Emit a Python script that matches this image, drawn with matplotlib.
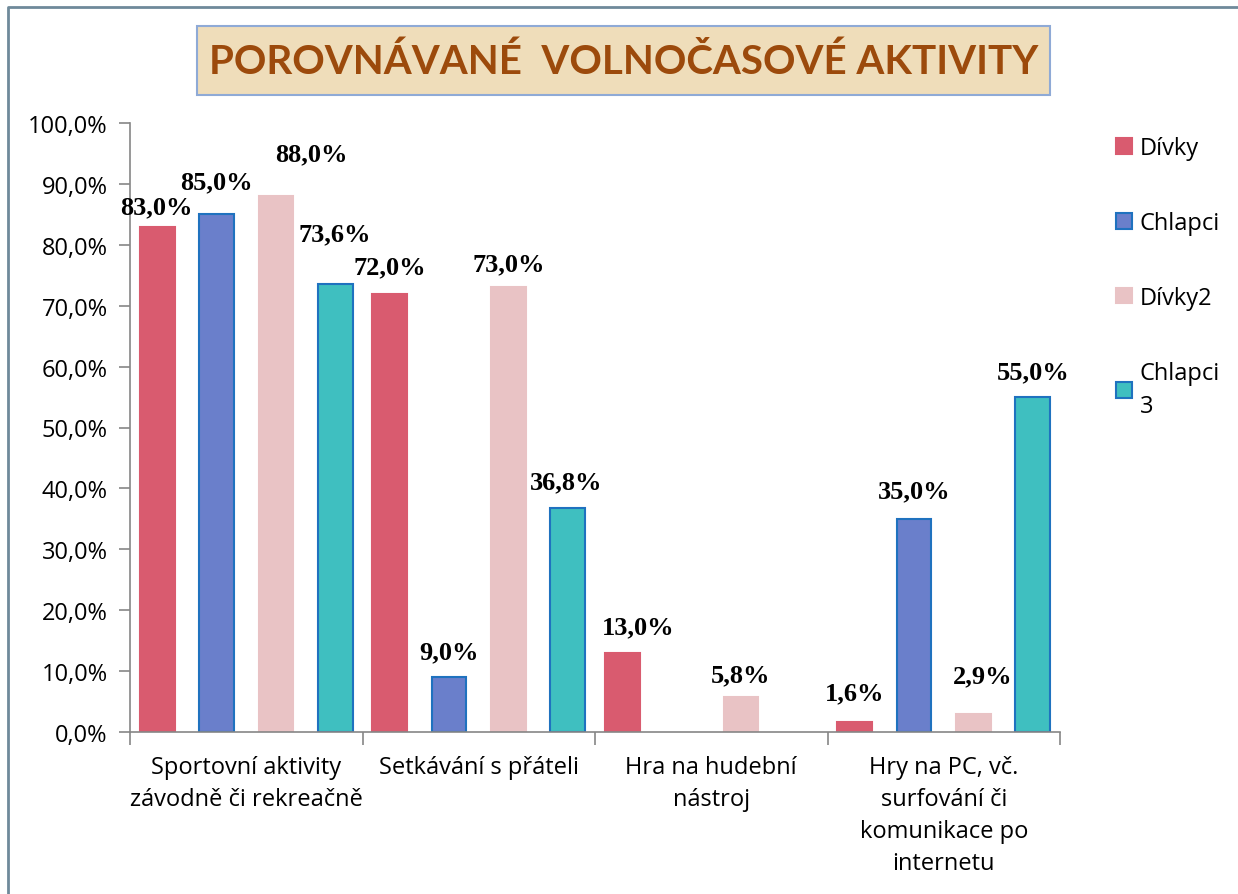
import numpy as np
import matplotlib.pyplot as plt
from matplotlib.patches import Rectangle
from matplotlib.lines import Line2D

categories = ["Sportovní aktivity\nzávodně či rekreačně",
              "Setkávání s přáteli",
              "Hra na hudební\nnástroj",
              "Hry na PC, vč.\nsurfování či\nkomunikace po\ninternetu"]
series_names = ["Dívky", "Chlapci", "Dívky2", "Chlapci\n3"]
divky = [83.0, 72.0, 13.0, 1.6]
chlapci = [85.0, 9.0, np.nan, 35.0]
divky2 = [88.0, 73.0, 5.8, 2.9]
chlapci3 = [73.6, 36.8, np.nan, 55.0]
yticks = [0, 10, 20, 30, 40, 50, 60, 70, 80, 90, 100]

# label nudges in pixels (dx, dy above bar top) per series, as Excel placed them
label_shift = [
    [(-1, 20), (0, 27), (16, 26), (0, 29)],
    [(0, 33), (0, 25), (0, 0), (0, 28)],
    [(35, 42), (0, 24), (0, 22), (9, 39)],
    [(-1, 50), (-2, 26), (0, 0), (0, 25)],
]

fills = ["#D95B6F", "#6A7FCB", "#E9C3C5", "#3FBFC0"]
edges = ["#D95B6F", "#1F72BF", "#E9C3C5", "#1F72BF"]

fig = plt.figure(figsize=(12.38, 8.95), dpi=100)
ax = fig.add_axes([130 / 1238, 1 - 733 / 895, 930 / 1238, 609 / 895])

x = np.arange(len(categories))
step = 0.2557
width = 0.15
all_series = [divky, chlapci, divky2, chlapci3]
for i, vals in enumerate(all_series):
    off = (i - 1.5) * step
    ax.bar(x + off, vals, width, color=fills[i], edgecolor=edges[i],
           linewidth=1.5, label=series_names[i], zorder=2)
    for j, v in enumerate(vals):
        if np.isnan(v):
            continue
        dx, dy = label_shift[i][j]
        ax.annotate(f"{v:.1f}%".replace(".", ","), (x[j] + off, v),
                    xytext=(dx * 0.72, dy * 0.72), textcoords="offset points",
                    ha="center", va="center", fontsize=19, fontweight="bold",
                    family="Liberation Serif", color="black")

ax.set_xlim(-0.5, 3.5)
ax.set_ylim(0, 100)
ax.set_yticks(yticks)
ax.set_yticklabels([f"{t:.1f}%".replace(".", ",") for t in yticks],
                   fontsize=17, family="Open Sans")
ax.set_xticks([-0.5, 0.5, 1.5, 2.5, 3.5])
ax.set_xticklabels([])
ax.tick_params(axis="x", length=9, color="#868686", width=1.2)
ax.tick_params(axis="y", length=8, color="#868686", width=1.2, pad=8)
for s in ["top", "right"]:
    ax.spines[s].set_visible(False)
for s in ["left", "bottom"]:
    ax.spines[s].set_color("#868686")
    ax.spines[s].set_linewidth(1.2)

for j, c in enumerate(categories):
    ax.text(x[j], -3.7, c, ha="center", va="top", fontsize=17,
            family="Open Sans", linespacing=1.45, transform=ax.transData)

leg = ax.legend(loc="upper left", bbox_to_anchor=(1095 / 1238, 1 - 116 / 895),
                bbox_transform=fig.transFigure, frameon=False,
                prop={"family": "Open Sans", "size": 17},
                handlelength=0.65, handleheight=0.65, handletextpad=0.35,
                labelspacing=2.15)
leg.get_texts()[3].set_linespacing(1.55)

# title box
fig.patches.append(Rectangle((197 / 1238, 1 - 96 / 895), 853 / 1238, 69 / 895,
                             transform=fig.transFigure, facecolor="#EFDDBA",
                             edgecolor="#8FAAD6", linewidth=1.5))
fig.text(624 / 1238, 1 - 62 / 895, "POROVNÁVANÉ  VOLNOČASOVÉ AKTIVITY",
         ha="center", va="center", fontsize=29, fontweight="bold",
         family="Lato", color="#9C4A0C")

# outer frame (left and top edges visible)
fig.lines.append(Line2D([8 / 1238, 8 / 1238, 1.0], [0, 1 - 8 / 895, 1 - 8 / 895],
                        transform=fig.transFigure, color="#6F8A9A", linewidth=2))

fig.savefig("out.png", dpi=100)
